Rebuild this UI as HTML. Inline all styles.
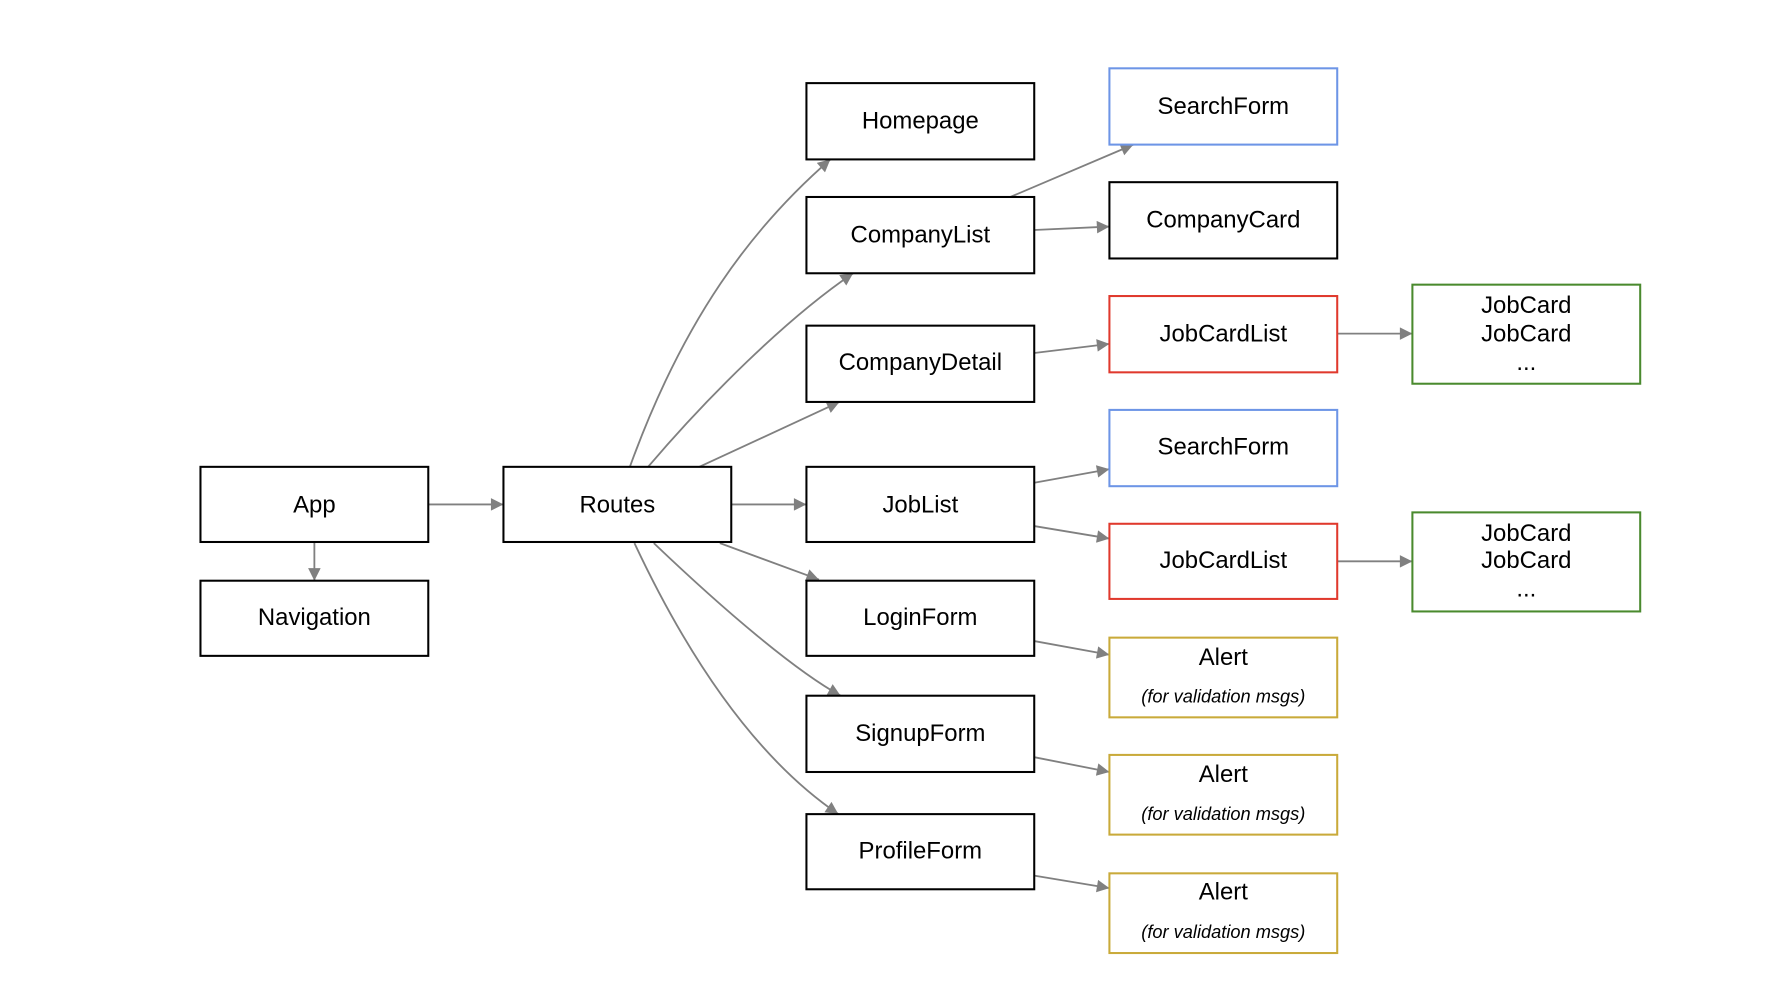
<!DOCTYPE html>
<html><head><meta charset="utf-8"><style>
html,body{margin:0;padding:0;background:#fff;}
svg{display:block;}
text{font-family:"Liberation Sans",Arial,sans-serif;font-size:21px;fill:#000;text-anchor:middle;}
.i{font-size:16px;font-style:italic;}
.b{fill:#fff;stroke-width:1.8;}
.e{fill:none;stroke:#808080;stroke-width:1.6;marker-end:url(#a);}
</style></head><body>
<svg width="1786" height="1002" viewBox="0 0 1568 880" preserveAspectRatio="none" xmlns="http://www.w3.org/2000/svg">
<defs><marker id="a" viewBox="0 0 10 10" refX="10" refY="5" markerWidth="13" markerHeight="11" markerUnits="userSpaceOnUse" orient="auto"><path d="M0,0 L10,5 L0,10 z" fill="#808080"/></marker></defs>
<rect width="1568" height="880" fill="#fff"/>
<path class="e" d="M376,443 L442,443"/>
<path class="e" d="M276,476 L276,510"/>
<path class="e" d="M553,410 C600,280 660,200 729,140"/>
<path class="e" d="M569,410 C620,350 690,280 749,240"/>
<path class="e" d="M614,410 L737,353"/>
<path class="e" d="M642,443 L708,443"/>
<path class="e" d="M632,477 L719,509"/>
<path class="e" d="M574,477 C640,540 700,590 738,611"/>
<path class="e" d="M557,477 C610,590 670,670 736,715"/>
<path class="e" d="M887,173 L995,127"/>
<path class="e" d="M908,202 L974,199"/>
<path class="e" d="M908,310 L974,302"/>
<path class="e" d="M1174,293 L1240,293"/>
<path class="e" d="M1174,493 L1240,493"/>
<path class="e" d="M908,424 L974,412"/>
<path class="e" d="M908,462 L974,473"/>
<path class="e" d="M908,563 L974,575"/>
<path class="e" d="M908,665 L974,678"/>
<path class="e" d="M908,769 L974,780"/>
<g stroke="#000">
<rect class="b" x="176" y="410" width="200" height="66"/>
<rect class="b" x="176" y="510" width="200" height="66"/>
<rect class="b" x="442" y="410" width="200" height="66"/>
<rect class="b" x="708" y="73" width="200" height="67"/>
<rect class="b" x="708" y="173" width="200" height="67"/>
<rect class="b" x="708" y="286" width="200" height="67"/>
<rect class="b" x="708" y="410" width="200" height="66"/>
<rect class="b" x="708" y="510" width="200" height="66"/>
<rect class="b" x="708" y="611" width="200" height="67"/>
<rect class="b" x="708" y="715" width="200" height="66"/>
<rect class="b" x="974" y="160" width="200" height="67"/>
</g>
<g stroke="#6d95e6"><rect class="b" x="974" y="60" width="200" height="67"/><rect class="b" x="974" y="360" width="200" height="67"/></g>
<g stroke="#e0392d"><rect class="b" x="974" y="260" width="200" height="67"/><rect class="b" x="974" y="460" width="200" height="66"/></g>
<g stroke="#4a8a2e"><rect class="b" x="1240" y="250" width="200" height="87"/><rect class="b" x="1240" y="450" width="200" height="87"/></g>
<g stroke="#c9aa3a"><rect class="b" x="974" y="560" width="200" height="70"/><rect class="b" x="974" y="663" width="200" height="70"/><rect class="b" x="974" y="767" width="200" height="70"/></g>
<text x="276" y="450">App</text>
<text x="276" y="549">Navigation</text>
<text x="542" y="450">Routes</text>
<text x="808" y="113">Homepage</text>
<text x="808" y="213">CompanyList</text>
<text x="808" y="325">CompanyDetail</text>
<text x="808" y="450">JobList</text>
<text x="808" y="549">LoginForm</text>
<text x="808" y="651">SignupForm</text>
<text x="808" y="754">ProfileForm</text>
<text x="1074" y="100">SearchForm</text>
<text x="1074" y="200">CompanyCard</text>
<text x="1074" y="300">JobCardList</text>
<text x="1074" y="399">SearchForm</text>
<text x="1074" y="499">JobCardList</text>
<text x="1340" y="275">JobCard</text>
<text x="1340" y="300">JobCard</text>
<text x="1340" y="325">...</text>
<text x="1340" y="475">JobCard</text>
<text x="1340" y="499">JobCard</text>
<text x="1340" y="524">...</text>
<text x="1074" y="584">Alert</text>
<text class="i" x="1074" y="617">(for validation msgs)</text>
<text x="1074" y="687">Alert</text>
<text class="i" x="1074" y="720">(for validation msgs)</text>
<text x="1074" y="790">Alert</text>
<text class="i" x="1074" y="824">(for validation msgs)</text>
</svg>
</body></html>
